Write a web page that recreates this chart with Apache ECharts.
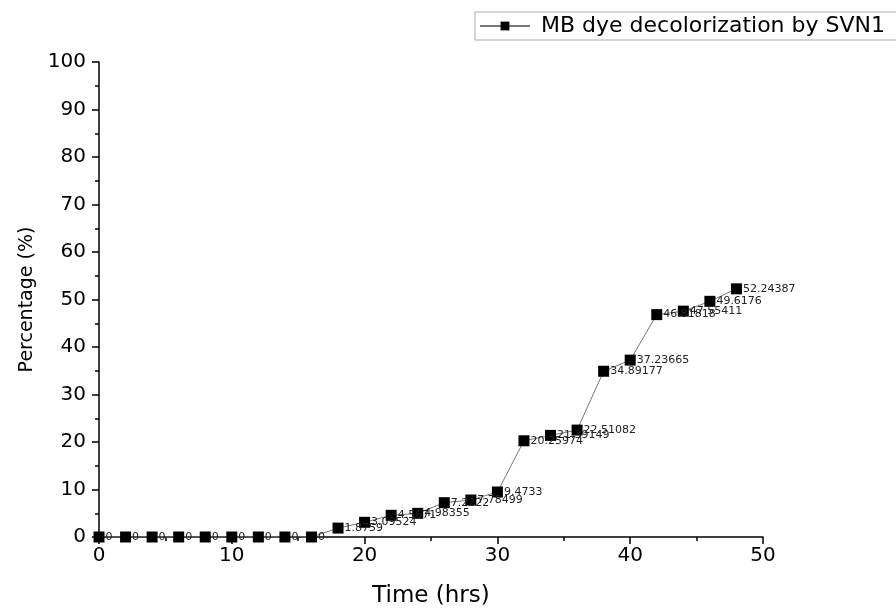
<!DOCTYPE html>
<html>
<head>
<meta charset="utf-8">
<script src="https://cdn.jsdelivr.net/npm/echarts@6/dist/echarts.min.js"></script>
<style>
  html, body { margin: 0; padding: 0; background: #fff; }
  #chart { width: 896px; height: 610px; }
</style>
</head>
<body>
<div id="chart"></div>
<script>
  // time points (hrs) and decolorization (%)
  var hours = [0, 2, 4, 6, 8, 10, 12, 14, 16, 18, 20, 22, 24, 26, 28, 30, 32, 34, 36, 38, 40, 42, 44, 46, 48];
  var percent = [0, 0, 0, 0, 0, 0, 0, 0, 0, 1.8759, 3.09524, 4.5671, 4.98355, 7.2222, 7.78499, 9.4733,
    20.25974, 21.39149, 22.51082, 34.89177, 37.23665, 46.81818, 47.55411, 49.6176, 52.24387];
  var seriesName = "MB dye decolorization by SVN1";

  var points = hours.map(function (h, i) { return [h, percent[i]]; });

  var myChart = echarts.init(document.getElementById("chart"));
  var fontName = "DejaVu Sans";
  var axisFont = { fontFamily: fontName, fontSize: 20, color: "#000" };

  var option = {
    backgroundColor: "#fff",
    animation: false,
    legend: {
      left: 475,
      top: 12,
      itemWidth: 50,
      itemHeight: 11,
      padding: [3, 30, 3, 4],
      borderColor: "#aaa",
      borderWidth: 1,
      textStyle: { fontFamily: fontName, fontSize: 22, color: "#000", padding: [0, 0, 0, 6] },
      data: [seriesName]
    },
    grid: { left: 99, right: 133, top: 62, bottom: 73, outerBoundsMode: "none" },
    xAxis: {
      type: "value",
      min: 0,
      max: 50,
      interval: 10,
      name: "Time (hrs)",
      nameLocation: "middle",
      nameGap: 48,
      nameTextStyle: { fontFamily: fontName, fontSize: 23, color: "#000" },
      axisLine: { show: true, onZero: false, lineStyle: { color: "#000", width: 1.5 } },
      axisTick: { show: true, inside: false, length: 7, lineStyle: { color: "#000", width: 1.5 } },
      minorTick: { show: true, splitNumber: 2, length: 4, lineStyle: { color: "#000", width: 1.5 } },
      axisLabel: Object.assign({ margin: 9 }, axisFont),
      splitLine: { show: false }
    },
    yAxis: {
      type: "value",
      min: 0,
      max: 100,
      interval: 10,
      name: "Percentage (%)",
      nameLocation: "middle",
      nameGap: 62,
      nameTextStyle: { fontFamily: fontName, fontSize: 19, color: "#000" },
      axisLine: { show: true, lineStyle: { color: "#000", width: 1.5 } },
      axisTick: { show: true, inside: false, length: 7, lineStyle: { color: "#000", width: 1.5 } },
      minorTick: { show: true, splitNumber: 2, length: 4, lineStyle: { color: "#000", width: 1.5 } },
      axisLabel: Object.assign({ margin: 13 }, axisFont),
      splitLine: { show: false }
    },
    series: [
      {
        name: seriesName,
        type: "line",
        data: points,
        symbol: "rect",
        symbolSize: 11,
        itemStyle: { color: "#000" },
        lineStyle: { color: "#777", width: 1 },
        label: {
          show: true,
          position: "right",
          distance: 1,
          fontFamily: fontName,
          fontSize: 11,
          color: "#222",
          formatter: function (p) { return String(p.value[1]); }
        },
        z: 3
      }
    ]
  };
  myChart.setOption(option);
</script>
</body>
</html>
